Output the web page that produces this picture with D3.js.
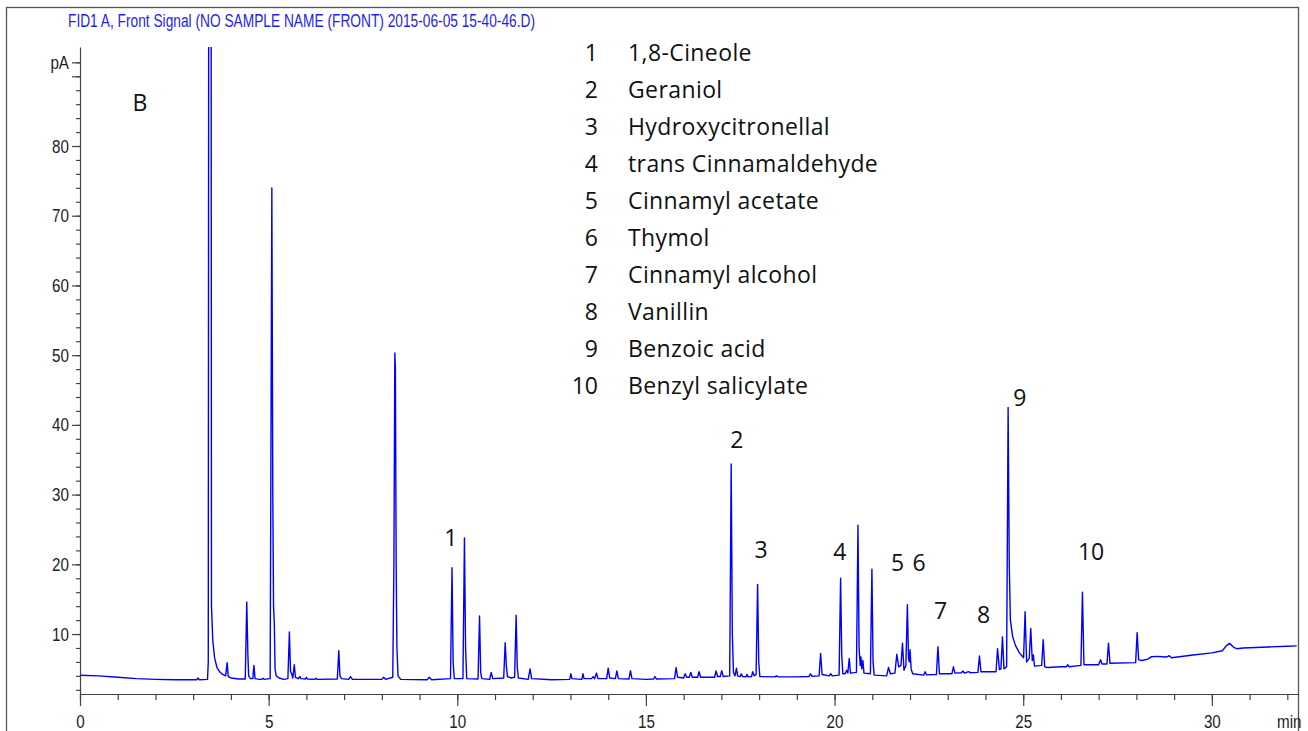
<!DOCTYPE html>
<html>
<head>
<meta charset="utf-8">
<script src="https://cdn.jsdelivr.net/npm/d3@7"></script>
<style>
  html, body { margin: 0; padding: 0; background: #fff; }
  svg { display: block; }
  .narrow { font-family: "Liberation Sans", Arial, sans-serif; }
  .lbl { font-family: "Open Sans", "Noto Sans", sans-serif; }
</style>
</head>
<body>
<svg id="chart" width="1308" height="731"></svg>
<script>
// FID signal: [retention time (min), signal (pA)]
const trace = [
  [0,4.1],[0.5,4.0],[1.0,3.8],[1.5,3.6],[2.0,3.5],[2.5,3.45],[3.0,3.45],[3.10,3.45],[3.13,3.7],[3.16,3.45],[3.38,3.5],
  [3.40,6],[3.445,400],[3.485,14],[3.52,9],[3.57,6.5],[3.63,5.2],[3.70,4.6],[3.78,4.2],[3.86,4.0],
  [3.90,5.9],[3.93,3.9],[4.0,3.7],[4.2,3.55],[4.38,3.55],
  [4.42,14.6],[4.45,7],[4.47,4.0],[4.52,3.6],[4.58,3.6],
  [4.61,5.5],[4.64,3.6],[4.75,3.5],[4.82,3.5],[4.85,3.65],[4.88,3.5],[5.04,3.6],
  [5.085,74],[5.11,30],[5.13,14],[5.15,11.5],[5.17,5],[5.2,4.0],[5.28,3.7],[5.4,3.5],[5.51,3.6],
  [5.55,10.3],[5.58,4.6],[5.61,4.3],[5.64,3.7],[5.68,5.6],[5.71,3.8],[5.78,3.6],[5.83,3.9],[5.86,3.6],[5.97,3.55],[6.0,3.8],[6.03,3.55],[6.22,3.5],[6.25,3.65],[6.28,3.5],[6.82,3.55],
  [6.86,7.6],[6.89,4.0],[6.93,3.6],[7.12,3.5],[7.17,3.9],[7.22,3.5],[7.5,3.5],[8.0,3.5],[8.05,3.8],[8.1,3.5],[8.29,3.8],
  [8.32,20],[8.345,50.3],[8.36,48],[8.38,20],[8.40,8],[8.43,4.0],[8.5,3.5],[9.2,3.45],[9.26,3.8],[9.32,3.45],[9.82,3.6],
  [9.86,19.5],[9.89,6],[9.92,3.6],[10.15,3.6],
  [10.19,23.8],[10.22,8],[10.25,3.6],[10.55,3.55],
  [10.59,12.6],[10.62,4.5],[10.65,3.6],[10.86,3.5],[10.90,4.5],[10.94,3.6],[11.23,3.7],
  [11.27,8.75],[11.30,5.5],[11.33,3.9],[11.42,3.7],[11.52,3.8],
  [11.56,12.7],[11.59,5.2],[11.62,3.7],[11.88,3.5],[11.93,5.0],[11.97,3.6],[12.5,3.45],[12.98,3.5],[13.01,4.3],[13.04,3.6],
  [13.30,3.5],[13.33,4.3],[13.36,3.6],[13.56,3.6],[13.60,3.9],[13.64,3.6],[13.69,4.4],[13.73,3.6],[13.96,3.6],[14.0,5.1],[14.04,3.7],
  [14.19,3.6],[14.23,4.7],[14.27,3.6],[14.55,3.55],[14.59,4.75],[14.63,3.6],[15.0,3.5],[15.2,3.55],[15.24,3.9],[15.28,3.55],
  [15.76,3.6],[15.80,5.2],[15.84,3.8],[16.0,3.7],[16.04,4.3],[16.08,3.8],[16.15,3.8],[16.19,4.5],[16.23,3.8],[16.37,3.8],[16.41,4.6],[16.45,3.8],
  [16.82,3.8],[16.86,4.7],[16.9,3.9],[16.97,3.9],[17.01,4.75],[17.05,3.9],[17.22,4.0],
  [17.26,34.4],[17.29,10],[17.32,4.5],[17.36,4.0],[17.40,5.1],[17.43,4.0],[17.50,3.9],[17.53,4.3],[17.56,3.9],[17.65,3.85],[17.68,4.2],[17.71,3.85],[17.80,3.9],[17.83,4.6],[17.87,4.0],[17.92,4.2],
  [17.96,17.1],[17.99,6],[18.02,3.9],[18.42,3.85],[18.46,4.0],[18.5,3.85],[19.0,3.85],[19.32,3.9],[19.36,4.3],[19.40,3.95],[19.59,4.0],
  [19.63,7.2],[19.67,4.2],[19.86,4.0],[19.90,4.3],[19.94,4.0],[20.12,4.1],
  [20.16,18.0],[20.19,7],[20.22,4.3],[20.28,4.3],[20.32,4.8],[20.35,4.4],[20.39,6.5],[20.42,4.4],[20.58,4.5],
  [20.62,25.6],[20.65,8],[20.68,5.5],[20.70,6.7],[20.72,5.0],[20.75,6.2],[20.78,4.4],[20.95,4.3],
  [20.99,19.3],[21.02,6],[21.05,4.1],[21.38,4.0],[21.43,5.2],[21.48,4.3],[21.60,4.4],[21.65,7.1],[21.70,5.3],[21.76,5.5],[21.80,8.7],[21.84,4.8],[21.89,5.5],
  [21.93,14.2],[21.96,6.5],[21.98,6.0],[22.0,7.75],[22.03,5.0],[22.07,4.3],[22.36,4.1],[22.40,4.6],[22.44,4.15],[22.70,4.2],
  [22.74,8.2],[22.78,4.3],[23.11,4.3],[23.15,5.3],[23.19,4.4],[23.36,4.45],[23.40,4.7],[23.44,4.4],[23.55,4.6],[23.60,4.45],[23.80,4.5],
  [23.84,6.85],[23.88,4.6],[24.28,4.6],
  [24.32,7.9],[24.37,4.9],[24.41,5.0],[24.45,9.6],[24.49,5.0],[24.56,5.3],
  [24.60,42.5],[24.63,20],[24.66,12],[24.72,9.6],[24.8,8.3],[24.9,7.3],[25.01,6.6],
  [25.05,13.2],[25.09,6.0],[25.16,6.5],[25.20,10.8],[25.24,6.2],[25.27,7.0],[25.30,5.4],[25.49,5.5],
  [25.53,9.2],[25.57,5.3],[25.65,5.2],[26.0,5.3],[26.14,5.3],[26.18,5.6],[26.22,5.3],[26.53,5.5],
  [26.57,16.0],[26.61,5.6],[27.0,5.6],[27.05,6.3],[27.09,5.7],[27.22,5.7],
  [27.26,8.7],[27.30,5.8],[27.98,5.9],
  [28.02,10.2],[28.06,6.3],[28.15,6.2],[28.3,6.4],[28.40,6.75],[28.55,6.8],[28.7,6.75],[28.8,6.7],[28.87,6.9],[28.93,6.6],
  [29.5,7.0],[30.0,7.3],[30.28,7.6],[30.38,8.3],[30.47,8.66],[30.58,8.1],[30.66,7.9],[30.83,8.0],[31.5,8.15],[32.0,8.25],[32.25,8.3]
];

// Axis ticks
const xMinorTicks = d3.range(0, 33, 1);
const xMajorTicks = [0, 5, 10, 15, 20, 25, 30];
const yMinorTicks = d3.range(2, 93, 2);
const yMajorTicks = [10, 20, 30, 40, 50, 60, 70, 80, 90, 92];
const yTickLabels = ["10", "20", "30", "40", "50", "60", "70", "80", "", "pA"];
const xUnit = "min";
const xUnitAt = 32;

// Peak assignments
const compoundIds = ["1", "2", "3", "4", "5", "6", "7", "8", "9", "10"];
const compoundNames = ["1,8-Cineole", "Geraniol", "Hydroxycitronellal", "trans Cinnamaldehyde",
  "Cinnamyl acetate", "Thymol", "Cinnamyl alcohol", "Vanillin", "Benzoic acid", "Benzyl salicylate"];

// Peak labels anchored at (time, pA)
const peakLabelText = ["B", "1", "2", "3", "4", "5", "6", "7", "8", "9", "10"];
const peakLabelTime = [1.59, 9.83, 17.41, 18.05, 20.14, 21.67, 22.24, 22.81, 23.95, 24.91, 26.80];
const peakLabelPA   = [86.2, 23.8, 37.8, 22.1, 21.8, 20.2, 20.2, 13.4, 12.7, 43.9, 21.8];

const title = "FID1 A, Front Signal (NO SAMPLE NAME (FRONT) 2015-06-05 15-40-46.D)";

const svg = d3.select("#chart");
const axisColor = "#444";
const tickTextColor = "#222";

// Condense text horizontally, keeping its anchor
function condense(sel, factor) {
  sel.each(function () {
    const w = this.getComputedTextLength();
    if (w > 0) d3.select(this).attr("textLength", w * factor).attr("lengthAdjust", "spacingAndGlyphs");
  });
}

const x = d3.scaleLinear().domain([0, 32.31]).range([80, 1299]);
const y = d3.scaleLinear().domain([1.4, 94.2]).range([694, 47]);

// Outer frame
svg.append("rect")
  .attr("x", 6.5).attr("y", 7.5).attr("width", 1292).attr("height", 740)
  .attr("fill", "none").attr("stroke", "#555").attr("stroke-width", 1.3);

// Title
svg.append("text").attr("class", "narrow")
  .attr("x", 68).attr("y", 27)
  .attr("font-size", 17.5).attr("fill", "#1e1ef0")
  .attr("textLength", 467).attr("lengthAdjust", "spacingAndGlyphs")
  .text(title);

// X axis
const gxMinor = svg.append("g").attr("transform", "translate(0,694)")
  .call(d3.axisBottom(x).tickValues(xMinorTicks).tickSize(6).tickSizeOuter(0).tickFormat(""));
const gxMajor = svg.append("g").attr("transform", "translate(0,694)")
  .call(d3.axisBottom(x).tickValues(xMajorTicks).tickSize(12).tickSizeOuter(0).tickFormat(d3.format("d")));
gxMajor.select(".domain").remove();
gxMajor.attr("font-family", null).attr("class", "narrow");
gxMajor.selectAll("text").attr("y", 34).attr("dy", 0).attr("font-size", 19).attr("fill", tickTextColor);
gxMajor.append("text").attr("x", x(xUnitAt) + 2).attr("y", 34)
  .attr("text-anchor", "middle").attr("font-size", 19).attr("fill", tickTextColor).text(xUnit);
condense(gxMajor.selectAll("text"), 0.8);

// Y axis
const gyMinor = svg.append("g").attr("transform", "translate(80,0)")
  .call(d3.axisLeft(y).tickValues(yMinorTicks).tickSize(4).tickSizeOuter(0).tickFormat(""));
const gyMajor = svg.append("g").attr("transform", "translate(80,0)")
  .call(d3.axisLeft(y).tickValues(yMajorTicks).tickSize(8).tickPadding(3).tickSizeOuter(0)
    .tickFormat((d, i) => yTickLabels[i]));
gyMajor.select(".domain").remove();
gyMajor.attr("font-family", null).attr("class", "narrow");
gyMajor.selectAll("text").attr("font-size", 19).attr("fill", tickTextColor);
condense(gyMajor.selectAll("text"), 0.8);

svg.selectAll(".domain, .tick line").attr("stroke", axisColor).attr("stroke-width", 1.2);
gxMinor.select(".domain").attr("d", "M80,0.5H1299");

// Plot clip
svg.append("clipPath").attr("id", "plotClip")
  .append("rect").attr("x", 80).attr("y", 47).attr("width", 1219).attr("height", 647);

const line = d3.line().x(d => x(d[0])).y(d => y(d[1]));
svg.append("path")
  .datum(trace)
  .attr("clip-path", "url(#plotClip)")
  .attr("d", line)
  .attr("fill", "none")
  .attr("stroke", "#0000ff")
  .attr("stroke-width", 1.4)
  .attr("stroke-linejoin", "round");

// Peak labels
svg.append("g").attr("class", "lbl")
  .selectAll("text")
  .data(peakLabelText)
  .join("text")
  .attr("x", (d, i) => x(peakLabelTime[i]))
  .attr("y", (d, i) => y(peakLabelPA[i]))
  .attr("dy", "0.36em")
  .attr("text-anchor", "middle")
  .attr("font-size", 23)
  .attr("fill", "#111")
  .text(d => d);

// Compound list
const legend = svg.append("g").attr("class", "lbl").attr("font-size", 23).attr("fill", "#111");
const rows = legend.selectAll("g").data(compoundIds).join("g")
  .attr("transform", (d, i) => `translate(0,${53 + i * 37})`);
rows.append("text").attr("x", 598).attr("dy", "0.36em").attr("text-anchor", "end").text(d => d);
rows.append("text").attr("x", 628).attr("dy", "0.36em").attr("letter-spacing", 0.4)
  .text((d, i) => compoundNames[i]);
</script>
</body>
</html>
